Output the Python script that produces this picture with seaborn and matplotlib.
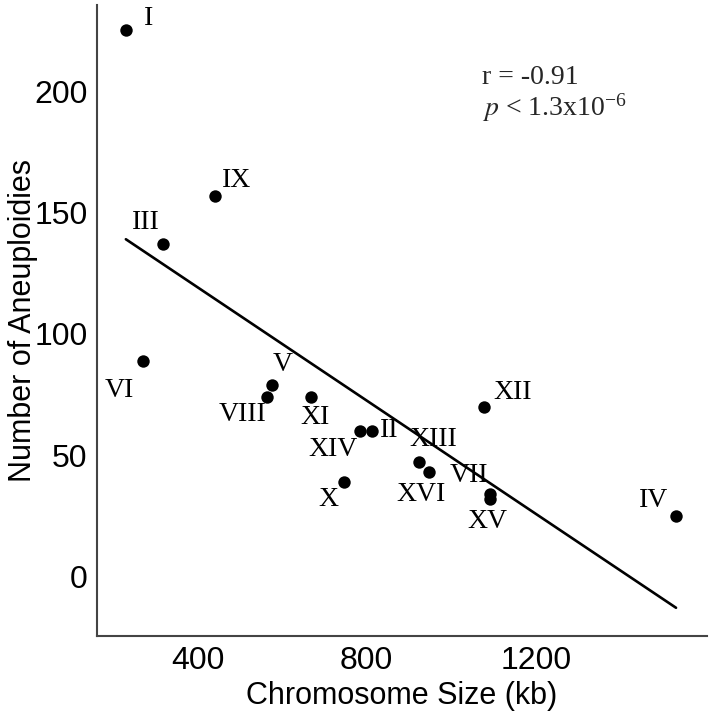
import numpy as np
import pandas as pd
import matplotlib
matplotlib.use("Agg")
import matplotlib.pyplot as plt
import seaborn as sns

chromosomes = ["I", "II", "III", "IV", "V", "VI", "VII", "VIII",
               "IX", "X", "XI", "XII", "XIII", "XIV", "XV", "XVI"]
size_kb = [230, 813, 317, 1532, 577, 270, 1091, 563,
           440, 746, 667, 1078, 924, 784, 1091, 948]
aneuploidies = [225, 60, 137, 25, 79, 89, 34, 74,
                157, 39, 74, 70, 47, 60, 32, 43]
# label offsets in pixels (dx, dy)
label_dx = [23, 17, -17, -22, 10, -23, -21, -24, 22, -16, 4, 28, 14, -27, -2, -8]
label_dy = [12, 0, 22, 15, 20, -30, 19, -18, 15, -18, -21, 14, 23, -19, -23, -22]

df = pd.DataFrame({"chrom": chromosomes, "size": size_kb, "aneu": aneuploidies})

sns.set_style("white")
plt.rcParams["font.family"] = ["Liberation Sans", "DejaVu Sans"]
plt.rcParams["mathtext.fontset"] = "stix"

fig = plt.figure(figsize=(7.09, 7.13), dpi=100)
ax = fig.add_axes([0.137, 0.108, 0.860, 0.885])

sns.regplot(data=df, x="size", y="aneu", ci=None, ax=ax,
            scatter_kws={"s": 80, "color": "black", "alpha": 1,
                         "linewidths": 0, "zorder": 3},
            line_kws={"color": "black", "linewidth": 1.9})

for name, x, y, dx, dy in zip(chromosomes, size_kb, aneuploidies, label_dx, label_dy):
    ax.annotate(name, (x, y), xytext=(dx, dy), textcoords="offset pixels",
                ha="center", va="center", fontsize=20,
                family="Liberation Serif", color="black")

ax.text(0.632, 0.885, "r = -0.91", transform=ax.transAxes, fontsize=20,
        family="Liberation Serif", ha="left", va="center")
ax.text(0.632, 0.837, r"$\it{p}$ < 1.3x10$^{\mathregular{-6}}$", transform=ax.transAxes,
        fontsize=20, family="Liberation Serif", ha="left", va="center")

ax.set_xlim(162, 1605)
ax.set_ylim(-24.5, 235.5)
ax.set_xticks([400, 800, 1200])
ax.set_yticks([0, 50, 100, 150, 200])
ax.set_xlabel("Chromosome Size (kb)", fontsize=22, color="black")
ax.set_ylabel("Number of Aneuploidies", fontsize=22, color="black")
ax.yaxis.set_label_coords(-0.097, 0.5)
ax.tick_params(axis="both", labelsize=23, length=4, width=1.2, pad=3,
               color="#444444", labelcolor="black", direction="out")
sns.despine(ax=ax)
for s in ["left", "bottom"]:
    ax.spines[s].set_color("#444444")
    ax.spines[s].set_linewidth(1.5)

fig.savefig("out.png", dpi=100)
